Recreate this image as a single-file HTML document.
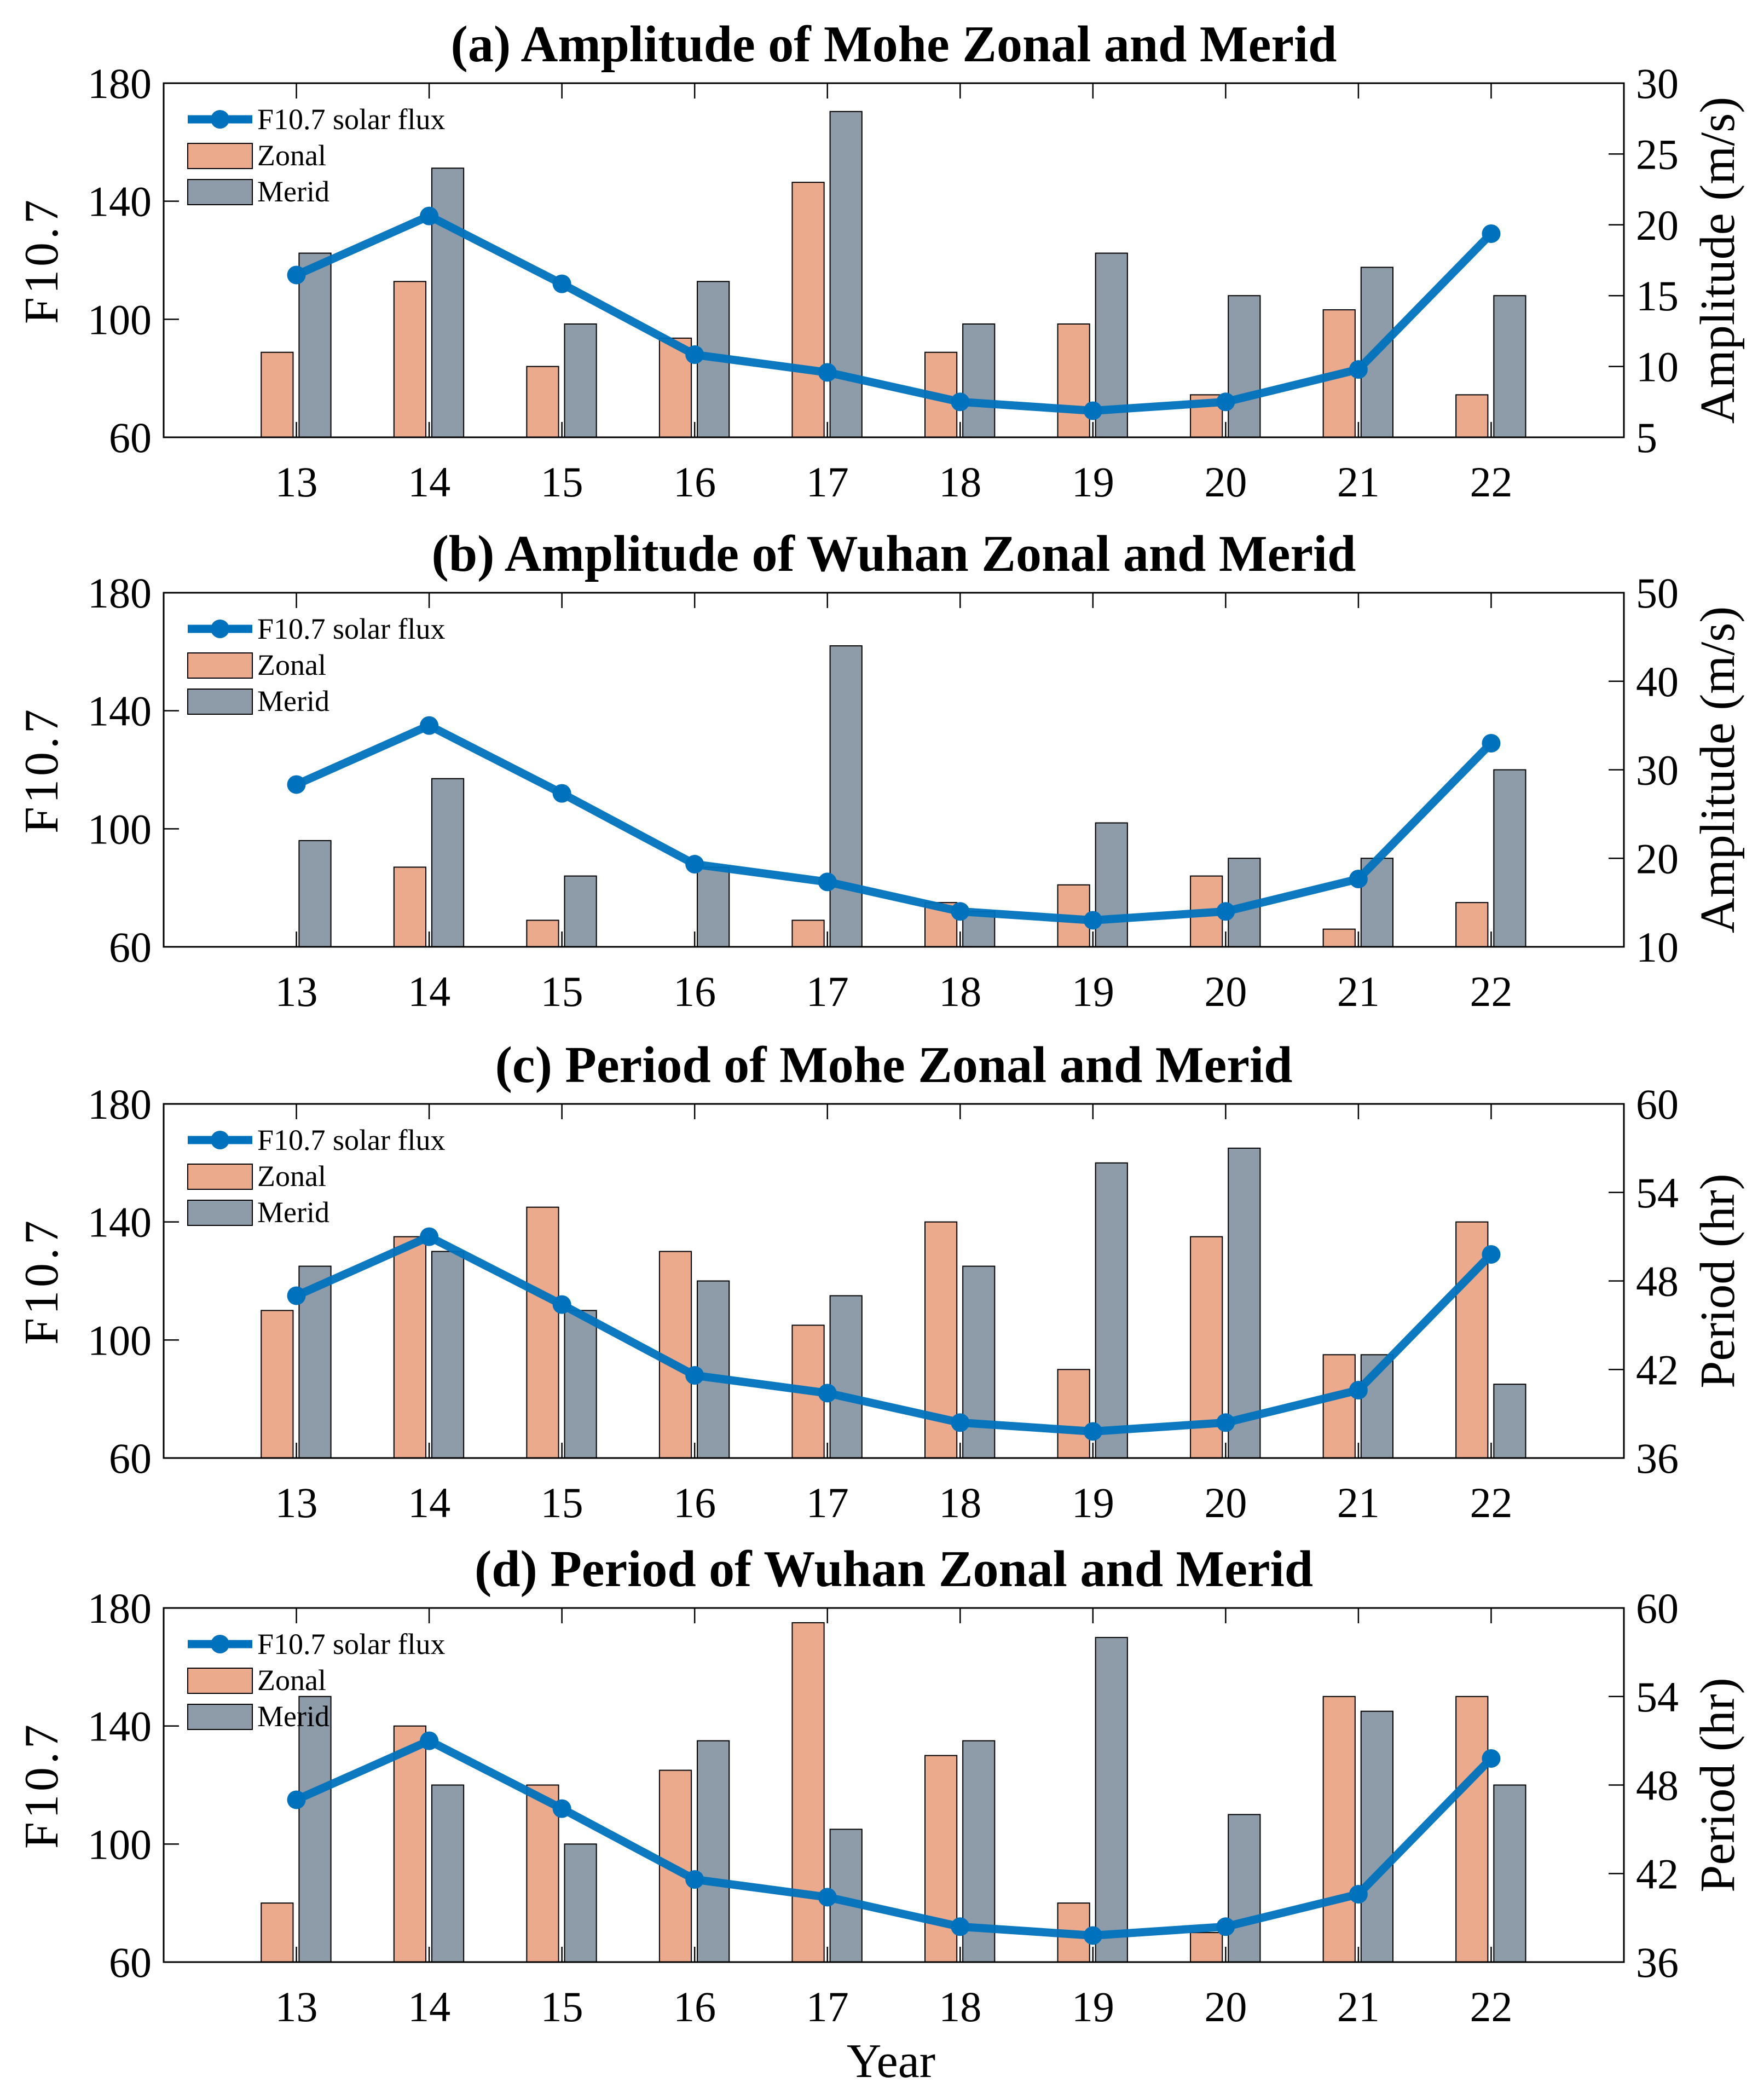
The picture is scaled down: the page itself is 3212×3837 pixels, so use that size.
<!DOCTYPE html>
<html><head><meta charset="utf-8"><style>
html,body{margin:0;padding:0;background:#fff;}
svg{display:block;font-family:"Liberation Serif",serif;}
</style></head>
<body>
<svg id="chart" width="3212" height="3837" viewBox="0 0 3212 3837" xmlns="http://www.w3.org/2000/svg"></svg>
<script>
const years = [13,14,15,16,17,18,19,20,21,22];
const f107 = [115,135,112,88,82,72,69,72,83,129];
const titles = ["(a) Amplitude of Mohe Zonal and Merid","(b) Amplitude of Wuhan Zonal and Merid","(c) Period of Mohe Zonal and Merid","(d) Period of Wuhan Zonal and Merid"];
const rightLabels = ["Amplitude (m/s)","Amplitude (m/s)","Period (hr)","Period (hr)"];
const rightTicksA = [5,10,15,20,25,30];
const rightTicksB = [10,20,30,40,50];
const rightTicksC = [36,42,48,54,60];
const rightTicksD = [36,42,48,54,60];
const leftTicks = [60,100,140,180];
const zonalA = [11,16,10,12,23,11,13,8,14,8];
const meridA = [18,24,13,16,28,13,18,15,17,15];
const zonalB = [9,19,13,9,13,15,17,18,12,15];
const meridB = [22,29,18,19,44,14,24,20,20,30];
const zonalC = [46,51,53,50,45,52,42,51,43,52];
const meridC = [49,50,46,48,47,49,56,57,43,41];
const zonalD = [40,52,48,49,59,50,40,38,54,54];
const meridD = [54,48,44,51,45,51,58,46,53,48];

const svg = document.getElementById('chart');
const NS = 'http://www.w3.org/2000/svg';
function mk(tag, attrs, parent){const e=document.createElementNS(NS,tag);for(const k in attrs)e.setAttribute(k,attrs[k]);(parent||svg).appendChild(e);return e;}

const L=299, R=2967, H=647;
const tops=[152,1083,2017,2938];
const panels=[
 {z:zonalA,m:meridA,rt:rightTicksA},
 {z:zonalB,m:meridB,rt:rightTicksB},
 {z:zonalC,m:meridC,rt:rightTicksC},
 {z:zonalD,m:meridD,rt:rightTicksD}];
const xs = v => L + (v-12)/11*(R-L);

panels.forEach((p,i)=>{
  const T=tops[i], B=T+H;
  const g=mk('g',{});
  
  
  const rmin=p.rt[0], rmax=p.rt[p.rt.length-1];
  const yl = v => B-(v-60)/120*H;
  const yr = v => B-(v-rmin)/(rmax-rmin)*H;
  const bw=0.24*(R-L)/11;
  years.forEach((yr_,j)=>{
    const zv=Math.max(p.z[j],rmin), mv=Math.max(p.m[j],rmin);
    const zb=mk('rect',{x:xs(yr_-0.145)-bw/2,y:yr(zv),width:bw,height:B-yr(zv),fill:'#EBAA8B',stroke:'#000','stroke-width':2},g);
    
    
    const mb=mk('rect',{x:xs(yr_+0.14)-bw/2,y:yr(mv),width:bw,height:B-yr(mv),fill:'#8E9BA8',stroke:'#000','stroke-width':2},g);
    
    
  });
  const pts=years.map((y,j)=>xs(y)+','+yl(f107[j])).join(' ');
  const ln=mk('polyline',{points:pts,fill:'none',stroke:'#0072BD','stroke-width':15,'stroke-linejoin':'round','stroke-opacity':0.95},g);
  
  
  years.forEach((y,j)=>{
    const c=mk('circle',{cx:xs(y),cy:yl(f107[j]),r:17,fill:'#0072BD'},g);
    
    
  });
  mk('rect',{x:L,y:T,width:R-L,height:H,fill:'none',stroke:'#000','stroke-width':3},g);
  years.forEach(y=>{
    mk('line',{x1:xs(y),y1:T,x2:xs(y),y2:T+28,stroke:'#000','stroke-width':2.5},g);
    mk('line',{x1:xs(y),y1:B,x2:xs(y),y2:B-28,stroke:'#000','stroke-width':2.5},g);
    const t=mk('text',{x:xs(y),y:B+108,'font-size':78,'text-anchor':'middle'},g);t.textContent=y;
    
    
  });
  leftTicks.forEach(v=>{
    mk('line',{x1:L,y1:yl(v),x2:L+28,y2:yl(v),stroke:'#000','stroke-width':2.5},g);
    const t=mk('text',{x:L-22,y:yl(v)+27,'font-size':78,'text-anchor':'end'},g);t.textContent=v;
    
    
  });
  p.rt.forEach(v=>{
    mk('line',{x1:R,y1:yr(v),x2:R-28,y2:yr(v),stroke:'#000','stroke-width':2.5},g);
    const t=mk('text',{x:R+22,y:yr(v)+27,'font-size':78,'text-anchor':'start'},g);t.textContent=v;
    
    
  });
  const tt=mk('text',{x:1633,y:T-40,'font-size':94,'font-weight':'bold','text-anchor':'middle'},g);tt.textContent=titles[i];
  
  
  const ly=mk('text',{x:0,y:0,'font-size':88,'letter-spacing':6,'text-anchor':'middle',transform:`translate(105,${T+H/2}) rotate(-90)`},g);ly.textContent='F10.7';
  
  
  const ry=mk('text',{x:0,y:0,'font-size':90,'text-anchor':'middle',transform:`translate(3168,${T+H/2}) rotate(-90)`},g);ry.textContent=rightLabels[i];
  
  
  const lg=mk('g',{},g);
  
  
  const lx=343, l1=T+66;
  mk('line',{x1:lx,y1:l1,x2:lx+118,y2:l1,stroke:'#0072BD','stroke-width':15},lg);
  mk('circle',{cx:lx+59,cy:l1,r:17,fill:'#0072BD'},lg);
  const t1=mk('text',{x:lx+127,y:l1+18,'font-size':54},lg);t1.textContent='F10.7 solar flux';
  mk('rect',{x:lx,y:l1+44,width:118,height:46,fill:'#EBAA8B',stroke:'#000','stroke-width':2},lg);
  const t2=mk('text',{x:lx+127,y:l1+84,'font-size':54},lg);t2.textContent='Zonal';
  mk('rect',{x:lx,y:l1+110,width:118,height:46,fill:'#8E9BA8',stroke:'#000','stroke-width':2},lg);
  const t3=mk('text',{x:lx+127,y:l1+150,'font-size':54},lg);t3.textContent='Merid';
});
const xt=mk('text',{x:1628,y:3795,'font-size':88,'text-anchor':'middle'});xt.textContent='Year';


</script>
</body></html>
